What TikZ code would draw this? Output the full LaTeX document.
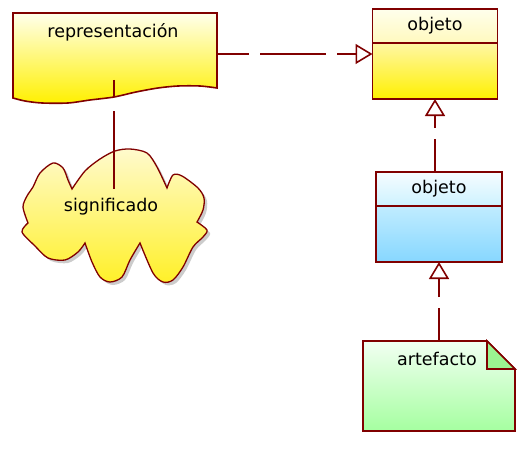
\documentclass[tikz,border=0pt]{standalone}
\usepackage{fontspec}
\setmainfont{DejaVu Sans}
\usepackage{xcolor}
\usetikzlibrary{positioning,arrows.meta}

\definecolor{umlred}{RGB}{128,0,0}
\definecolor{ylwtop}{RGB}{255,255,236}
\definecolor{ylwbot}{RGB}{255,240,0}
\definecolor{objmid}{RGB}{255,249,190}
\definecolor{objmid2}{RGB}{255,247,165}
\definecolor{cldtop}{RGB}{255,250,205}
\definecolor{cldbot}{RGB}{255,240,40}
\definecolor{bluetop}{RGB}{246,252,255}
\definecolor{bluemid}{RGB}{205,242,255}
\definecolor{bluemid2}{RGB}{192,236,255}
\definecolor{bluebot}{RGB}{135,215,255}
\definecolor{grntop}{RGB}{242,255,242}
\definecolor{grnbot}{RGB}{165,255,160}
\definecolor{grnfold}{RGB}{155,245,145}

\begin{document}
\begin{tikzpicture}[
    x=1pt, y=-1pt,
    font=\fontsize{17.5}{21}\selectfont,
    line width=1.6pt,
    area/.style={inner sep=0pt, outer sep=0pt},
    hdr/.style={draw=umlred, inner sep=0pt, outer sep=0pt, minimum height=34pt},
    body/.style={draw=umlred, inner sep=0pt, outer sep=0pt, minimum height=56pt},
    dep/.style={draw=umlred, dash pattern=on 33pt off 11pt on 66pt off 11pt},
    gen/.style={dep, -{Triangle[open, length=17pt, width=20pt]}},
    node distance=0pt,
]
\useasboundingbox (0,0) rectangle (525,452);

\path[draw=umlred, top color=ylwtop, bottom color=ylwbot]
    (13,13) -- (217,13) -- (217,88)
    -- plot[smooth] coordinates {(217,88) (200,86) (178,86) (158,88) (136,92) (114,97) (90,100) (68,103) (42,103) (25,101) (13,98)}
    -- cycle;
\node[area, minimum width=204pt, minimum height=82pt] (repr) at (114,54) {};
\node (reprlbl) at (113,32) {representación};

\path[draw=umlred, line width=1.3pt, top color=cldtop, bottom color=cldbot,
      preaction={fill=black!20, transform canvas={xshift=3pt, yshift=-3pt}}]
    plot[smooth] coordinates {(72,189) (85,171) (100,159) (115,151) (130,149) (147,153) (157,167) (167,188)}
    -- plot[smooth] coordinates {(167,188) (173,175) (182,176) (198,188) (204,198) (203,210) (197,222)}
    -- plot[smooth] coordinates {(197,222) (207,230) (203,237) (193,247) (183,267) (173,280) (163,282) (153,273) (140,243)}
    -- plot[smooth] coordinates {(140,243) (130,260) (122,277) (110,282) (100,277) (92,262) (85,243)}
    -- plot[smooth] coordinates {(85,243) (78,252) (65,260) (48,258) (35,246) (22,232) (28,223)}
    -- plot[smooth] coordinates {(28,223) (23,207) (27,196) (33,187) (40,173) (53,163) (63,168) (68,180) (72,189)}
    -- cycle;
\node[area, minimum width=186pt, minimum height=134pt] (cloud) at (114,215) {};
\node (siglbl) at (111,207) {significado};

\node[hdr, minimum width=125pt, top color=ylwtop, bottom color=objmid] (obj1) at (435,26) {objeto};
\node[body, minimum width=125pt, below=of obj1, top color=objmid2, bottom color=ylwbot] (obj1b) {};

\node[hdr, minimum width=126pt, top color=bluetop, bottom color=bluemid] (obj2) at (439,189) {objeto};
\node[body, minimum width=126pt, below=of obj2, top color=bluemid2, bottom color=bluebot] (obj2b) {};

\node[area, minimum width=152pt, minimum height=90pt] (art) at (439,386) {};
\path[draw=umlred, top color=grntop, bottom color=grnbot]
    (art.north west) -- ([xshift=-28pt]art.north east) -- ([yshift=-28pt]art.north east)
    -- (art.south east) -- (art.south west) -- cycle;
\path[draw=umlred, fill=grnfold] ([xshift=-28pt]art.north east) |- ([yshift=-28pt]art.north east) -- cycle;
\node (artlbl) at (437,359) {artefacto};

\draw[gen] (repr.east) -- (repr.east -| obj1b.west);
\draw[gen] (obj2.north -| obj1b.south) -- (obj1b.south);
\draw[gen] (art.north) -- (obj2b.south);
\draw[dep, dash pattern=on 17pt off 14pt on 100pt] ([yshift=15pt]repr.south) -- ([yshift=26pt]cloud.center);
\end{tikzpicture}
\end{document}
